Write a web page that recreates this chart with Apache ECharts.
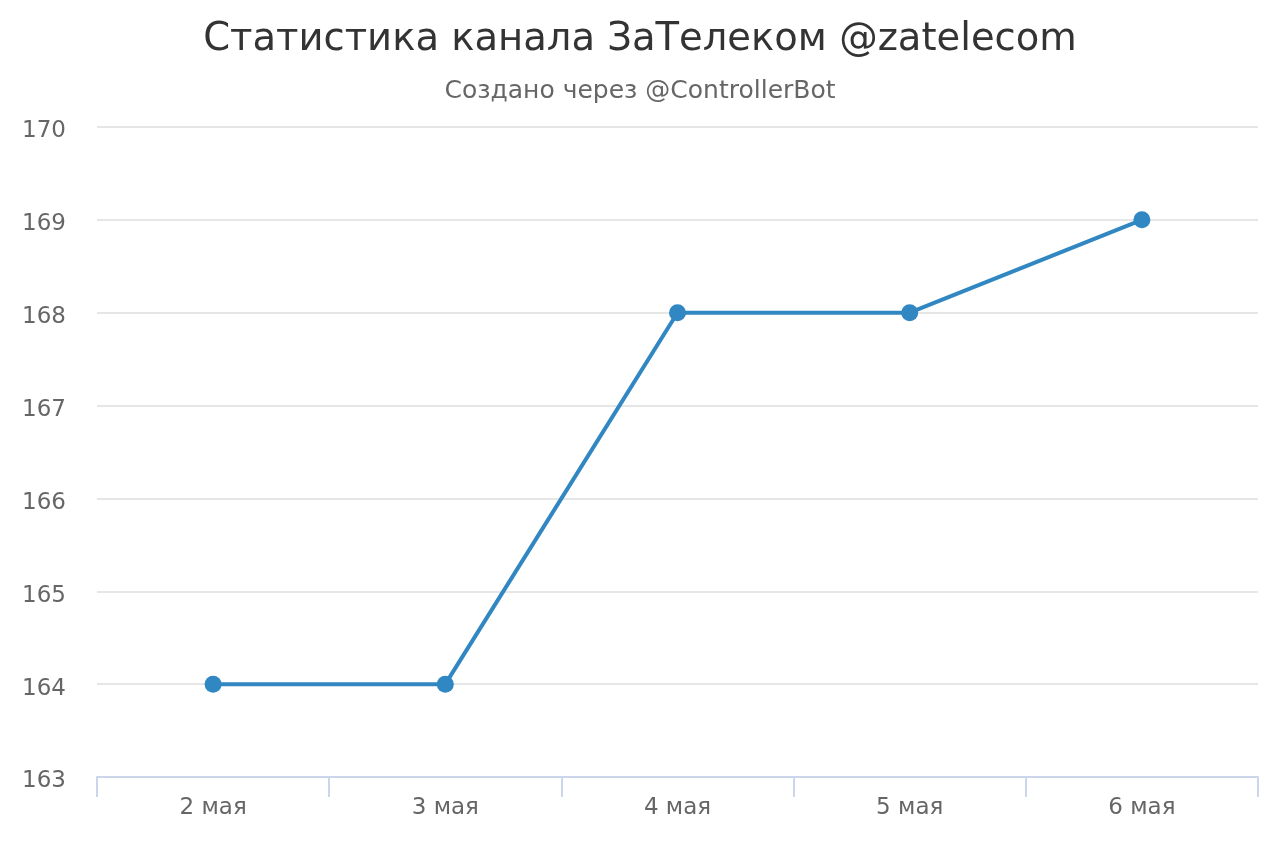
<!DOCTYPE html>
<html><head><meta charset="utf-8">
<script src="https://cdn.jsdelivr.net/npm/echarts@6/dist/echarts.min.js"></script>
<style>html,body{margin:0;padding:0;background:#fff}#c{width:1280px;height:853px}</style>
</head><body><div id="c"></div>
<script>
const titleText = 'Статистика канала ЗаТелеком @zatelecom';
const subtitleText = 'Создано через @ControllerBot';
const categories = ['2 мая', '3 мая', '4 мая', '5 мая', '6 мая'];
const subscribers = [164, 164, 168, 168, 169];
const yMin = 163, yMax = 170, yStep = 1;

const chart = echarts.init(document.getElementById('c'), null, {renderer: 'canvas'});
const font = 'DejaVu Sans';
chart.setOption({
  animation: false,
  backgroundColor: '#ffffff',
  title: [
    {text: titleText, left: 'center', top: 15, textStyle: {fontFamily: font, fontSize: 38.5, fontWeight: 'normal', color: '#333333'}},
    {text: subtitleText, left: 'center', top: 74, textStyle: {fontFamily: font, fontSize: 25, fontWeight: 'normal', color: '#666666'}}
  ],
  grid: {left: 97, right: 22, top: 127, bottom: 76, containLabel: false},
  xAxis: {
    type: 'category', data: categories, boundaryGap: true,
    axisLine: {lineStyle: {color: '#ccd6eb', width: 2}},
    axisTick: {show: true, length: 20, inside: false, alignWithLabel: false, lineStyle: {color: '#ccd6eb', width: 2}},
    axisLabel: {fontFamily: font, fontSize: 23, color: '#666666', margin: 20},
    splitLine: {show: false}
  },
  yAxis: {
    type: 'value', min: yMin, max: yMax, interval: yStep,
    axisLine: {show: false}, axisTick: {show: false},
    axisLabel: {fontFamily: font, fontSize: 23, color: '#666666', align: 'left', margin: 75, verticalAlign: 'top', lineHeight: 9},
    splitLine: {lineStyle: {color: '#e6e6e6', width: 2}}
  },
  series: [{
    type: 'line', data: subscribers,
    symbol: 'circle', symbolSize: 17,
    lineStyle: {color: '#3087c1', width: 4},
    itemStyle: {color: '#3087c1'}
  }]
});
</script></body></html>
